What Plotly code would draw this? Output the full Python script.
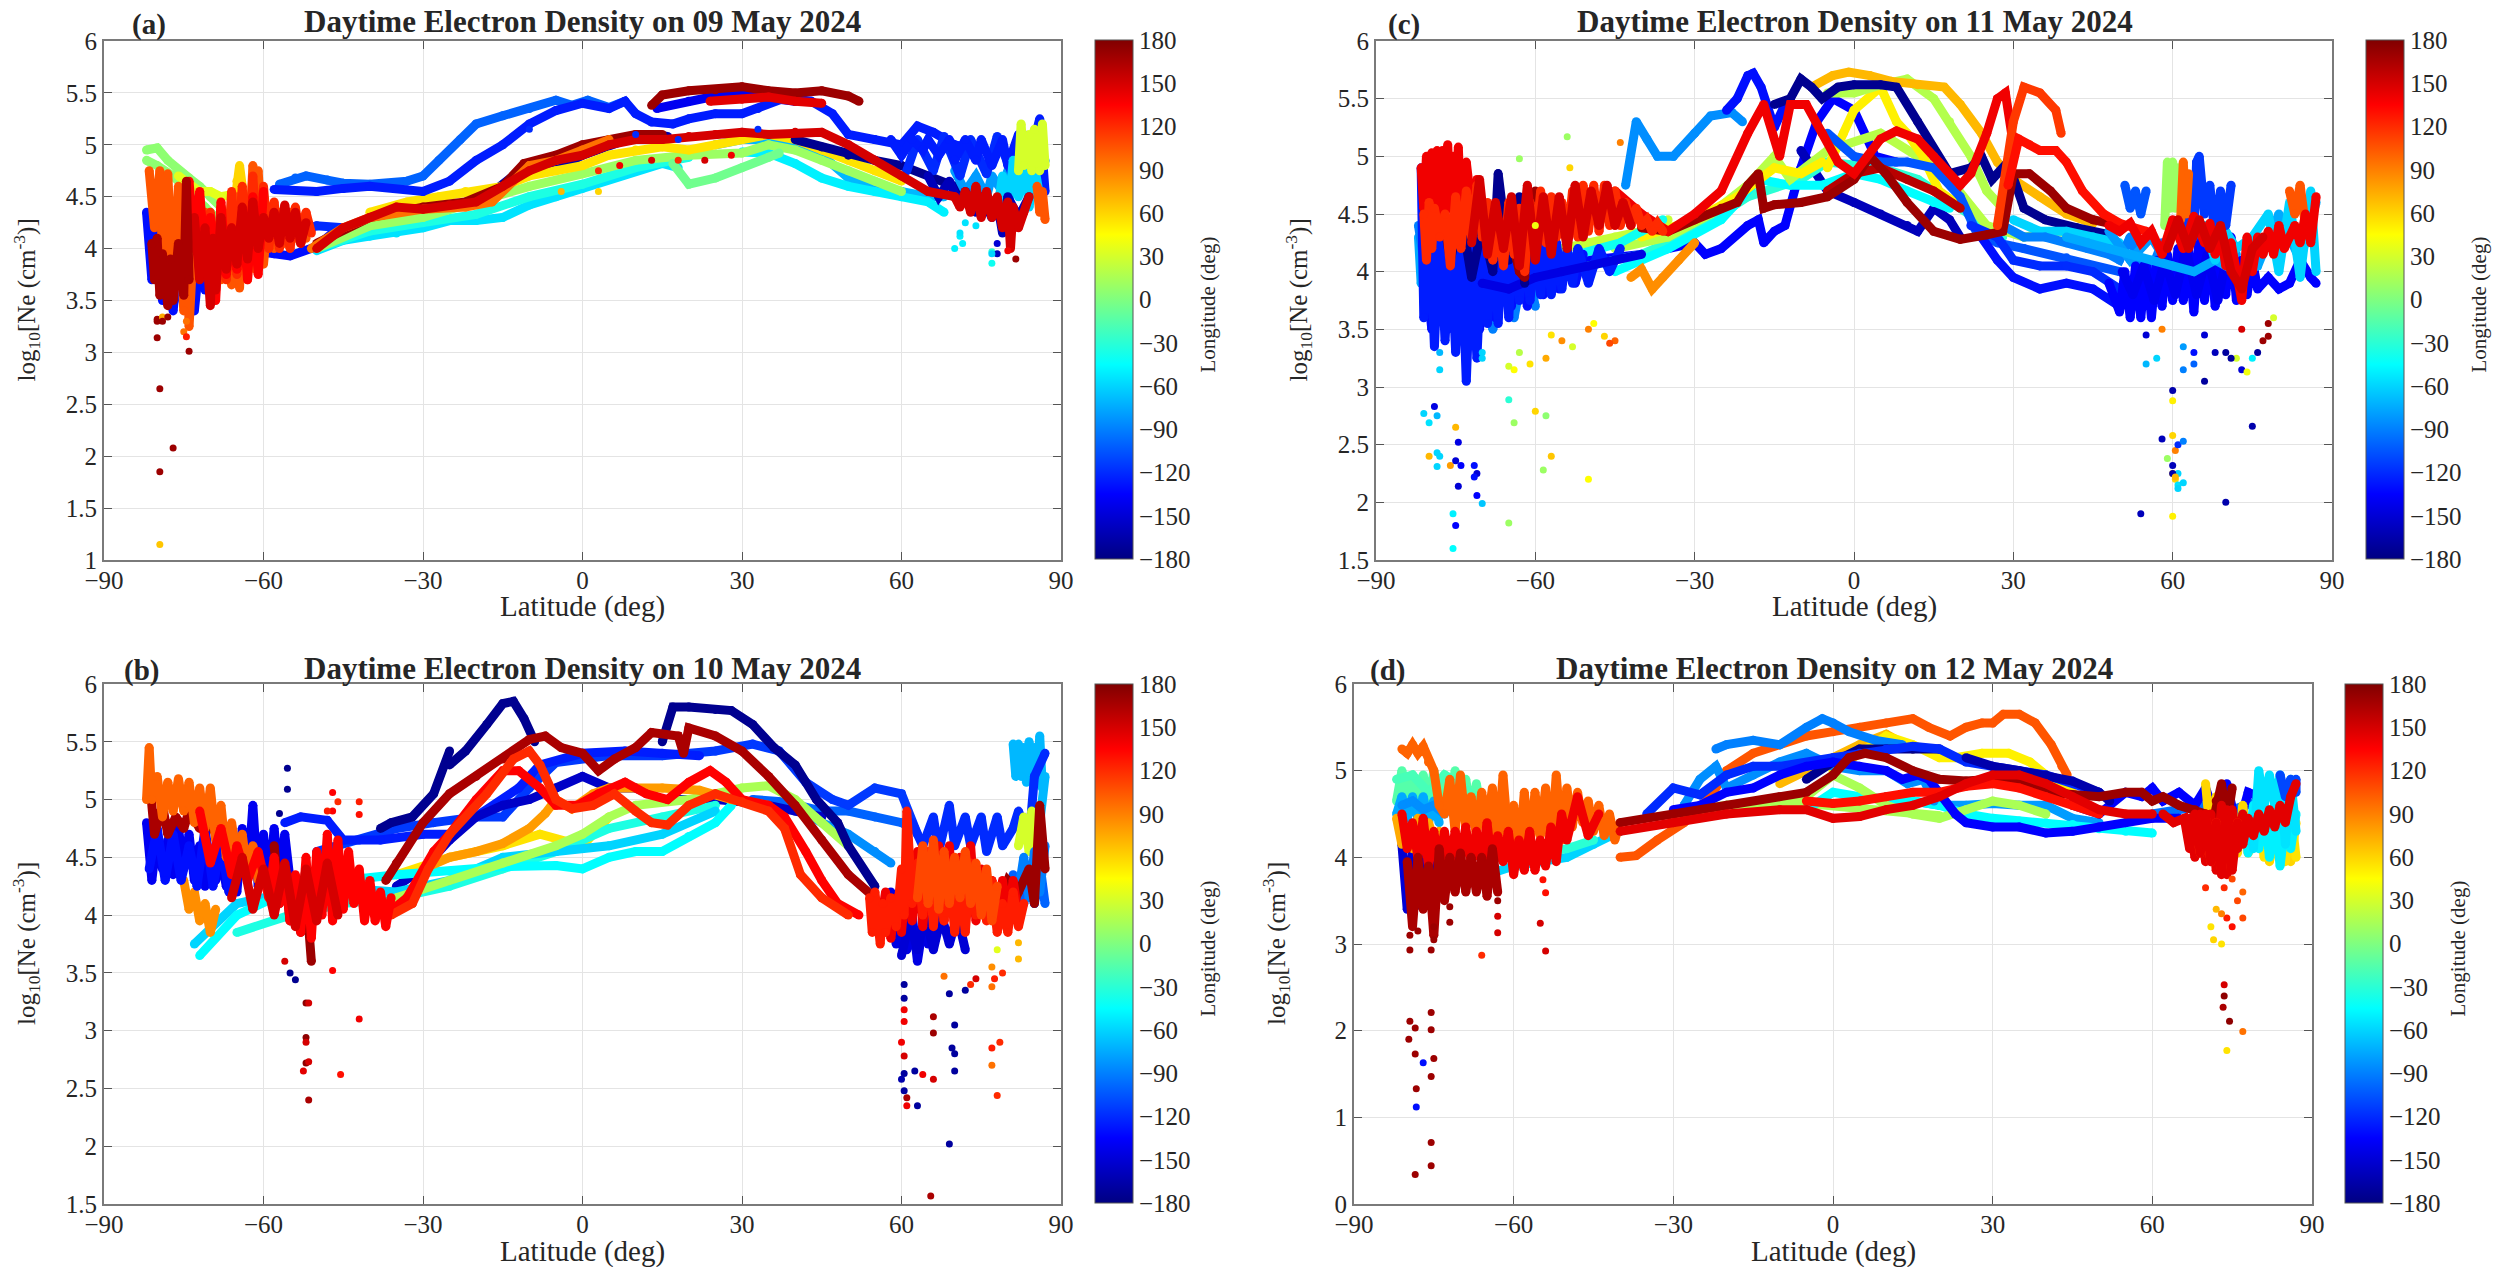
import plotly.graph_objects as go
from plotly.colors import sample_colorscale

W, H = 2504, 1267
TICK_LON = [-180,-150,-120,-90,-60,-30,0,30,60,90,120,150,180]
TICK_LAT = [-90,-60,-30,0,30,60,90]
JET = [[0,"rgb(0,0,130)"],[0.125,"rgb(0,0,255)"],[0.375,"rgb(0,255,255)"],[0.625,"rgb(255,255,0)"],[0.875,"rgb(255,0,0)"],[1,"rgb(128,0,0)"]]

# ---------- panel (a) 09 May ----------
a01=(-100,[-57,-54,-52,-48,-45,-40,-33,-30,-27,-23,-20,-15,-10,-5,-2,1,5,8],[4.62,4.68,4.7,4.66,4.63,4.62,4.65,4.7,4.85,5.05,5.2,5.28,5.35,5.43,5.38,5.43,5.36,5.42])
a02=(-125,[-58,-50,-45,-40,-30,-25,-20,-15,-10,-5,0,5,8,10,13,17,20,25,30,33,38,43,47,50,55,60,63,66,70,75],[4.57,4.55,4.58,4.6,4.55,4.65,4.85,5.0,5.2,5.33,5.4,5.35,5.42,5.3,5.22,5.2,5.25,5.3,5.3,5.35,5.45,5.42,5.3,5.1,5.05,5.0,5.18,5.12,5.0,4.95])
a03=(-140,[14,20,25,30,35,40],[5.35,5.42,5.47,5.48,5.45,5.42])
a04=(-165,[-18,-14,-10,-7,-3,0,5,10,13,16],[4.5,4.65,4.82,4.8,4.82,4.9,5.0,5.08,5.1,5.08])
a05=(-70,[25,30,35,40,45,50,55,60,65,68],[5.0,5.05,5.05,5.02,4.9,4.68,4.6,4.55,4.5,4.5])
a06=(-55,[-50,-45,-40,-35,-30,-25,-20,-15,-10,-5,0,5,10,15,18],[3.98,4.08,4.12,4.15,4.2,4.27,4.27,4.3,4.42,4.5,4.58,4.68,4.75,4.82,4.78])
a07=(-50,[30,35,40,45,50,55,60,65,68],[4.93,4.92,4.82,4.68,4.6,4.55,4.5,4.45,4.35])
a08=(-35,[-50,-40,-30,-20,-10,0,10,20],[4.0,4.17,4.25,4.33,4.5,4.62,4.78,4.88])
a09=(10,[-50,-40,-30,-20,-10,0,10,20,30,35,40,45,50,55,60],[4.0,4.22,4.3,4.45,4.6,4.72,4.85,4.9,4.92,5.0,4.95,4.85,4.75,4.65,4.55])
a10=(-5,[17,20,25,30,35,37],[4.82,4.62,4.68,4.78,4.88,4.92])
a11=(55,[-40,-33,-27,-22,-15,-10,-5,0,5,10,15,20,25,30,35,40,45,50,55,60],[4.35,4.45,4.5,4.55,4.6,4.7,4.75,4.8,4.9,4.95,4.98,4.95,5.0,5.05,5.1,5.05,4.95,4.85,4.75,4.65])
a12=(-175,[40,45,50,55,60,65,70,75,80],[5.05,4.98,4.9,4.85,4.8,4.7,4.6,4.5,4.4])
a13=(-130,[-62,-58,-55,-50,-47],[3.98,3.95,3.93,4.02,4.15])
a14=(-120,[-60,-57,-54,-50,-45],[4.2,4.1,4.15,4.22,4.2])
a15=(170,[-50,-40,-30,-22,-15,-11,-5,0,5,10,15],[4.05,4.3,4.4,4.45,4.6,4.82,4.9,5.0,5.05,5.1,5.1])
a16=(95,[-51,-45,-40,-30,-22,-17,-13,-10,-5,0,5],[4.0,4.2,4.3,4.38,4.4,4.45,4.65,4.8,4.85,4.95,5.05])
a17=(150,[-50,-45,-40,-35,-30,-25,-20,-15,-10,-5,0,5,10,15,20,25,30,35,40,45,50,55,60,65,70],[4.0,4.2,4.3,4.4,4.38,4.42,4.45,4.6,4.75,4.85,4.9,5.0,5.05,5.05,5.08,5.1,5.12,5.1,5.12,5.12,5.0,4.85,4.7,4.55,4.5])
a18=(170,[13,15,20,25,30,35,40,45,50,52],[5.38,5.48,5.52,5.53,5.56,5.52,5.5,5.52,5.47,5.42])
a19=(145,[24,30,35,40,45],[5.42,5.44,5.46,5.42,5.4])
a20=(5,[-82,-80,-78,-76,-74,-72,-70,-68,-68,-71,-74,-77,-80,-82],[4.95,4.97,4.85,4.75,4.68,4.6,4.5,4.4,4.25,4.4,4.55,4.7,4.8,4.85])
a21=(35,[-76,-74,-72,-70,-68,-66,-65,-67,-69,-72],[4.7,4.62,4.55,4.55,4.5,4.52,4.45,4.25,4.15,4.35])
a22=(60,[-65.5,-65,-64.5,-64,-64.5,-65],[4.4,4.65,4.8,4.6,4.35,4.2])
a23=(-130,[-82,-81,-80,-79,-78,-77,-76,-75,-74,-73,-72,-71,-70,-69,-68,-67,-66,-65,-64,-63,-62],[4.35,3.7,4.2,3.5,4.05,3.4,3.9,3.45,4.1,3.4,3.9,3.6,4.2,3.7,4.25,3.9,4.3,3.95,4.4,4.0,4.45])
a24=(105,[-81.5,-80.5,-79.5,-79,-78,-77,-76,-75,-74.5,-74,-73,-72,-71,-70,-69,-68,-67,-66,-65,-64.5,-64,-63,-62,-61.5,-61,-60,-59,-58,-57,-56,-55,-54,-53,-52],[4.75,4.2,4.75,3.9,4.72,3.6,4.6,3.4,4.3,3.25,4.2,3.8,4.35,3.6,4.2,3.7,4.3,3.65,4.5,3.62,4.4,3.7,4.8,3.8,4.75,3.85,4.4,4.0,4.35,4.05,4.35,4.1,4.3,4.1])
a25=(150,[-73,-72,-71,-70,-69.5,-69,-68,-67,-66,-65,-64,-63,-62,-61,-60,-59,-58,-57,-56,-55,-54,-53,-52],[4.3,3.7,4.2,3.45,4.1,3.6,4.3,3.8,4.2,3.85,4.4,3.9,4.45,4.0,4.3,4.1,4.35,4.05,4.42,4.1,4.35,4.05,4.25])
a26=(165,[-81,-80.5,-80,-79.5,-79,-78,-77.5,-77,-76,-75,-74.5,-74],[4.05,3.7,4.1,3.55,3.95,3.45,3.9,3.5,4.05,3.55,4.65,3.7])
a27=(-125,[58,60,62,64,65,67,69,70,72,74,75,77,79,80,82,84,86,87],[5.05,4.9,5.05,4.95,5.05,4.9,5.05,4.85,5.05,4.85,5.05,4.8,5.05,4.8,5.1,4.85,5.25,4.55])
a28=(-80,[70,72,74,76,77,79,80,81,83,84,85,86,87],[4.75,4.55,4.7,4.5,4.7,4.55,4.75,4.55,4.85,4.55,4.9,4.6,4.85])
a29=(30,[82,82.5,83,84,84.5,85,86,86.5,87],[4.75,5.2,4.8,5.1,4.75,5.15,4.75,5.2,4.8])
a30=(-160,[65,67,69,71,72,74,75,77,78,79,80,82,84],[4.7,4.5,4.65,4.42,4.55,4.35,4.5,4.3,4.45,4.15,4.5,4.3,4.5])
a31=(150,[70,71,72,73,74,75,76,77,78,79,80,80.5,81,82,83,84],[4.5,4.4,4.55,4.35,4.6,4.3,4.55,4.3,4.5,4.2,4.45,4.0,4.4,4.2,4.35,4.5])
a32=(105,[85.5,86,86.5,87],[4.6,4.35,4.55,4.28])
a33=(120,[-72,-71,-70,-69,-68,-67,-66,-65,-64,-63,-62,-61,-60,-59,-58,-57,-56,-55,-54,-53,-52,-51],[4.5,3.9,4.35,3.6,4.4,3.7,4.55,3.75,4.6,3.8,4.7,3.85,4.6,4.0,4.45,4.0,4.3,4.0,4.4,4.05,4.35,4.15])
a34=(135,[-74,-73,-72,-71,-70,-69,-68,-67,-66,-65,-64,-63,-62,-61,-60],[4.65,4.0,4.55,3.85,4.3,3.5,4.45,3.75,4.2,3.8,4.35,3.7,4.5,3.75,4.55])
a36=(-120,[61,63,66,68,71,73,76,78,81,83,85],[4.75,5.05,4.75,5.08,4.7,5.05,4.72,5.08,4.7,5.1,4.6])
a38=(-60,[78,79,80,81,82,83,84,85,86],[4.35,4.7,4.3,4.85,4.5,4.9,4.4,4.8,4.5])
a_tracks=[a01,a03,a04,a05,a06,a07,a08,a09,a10,a11,a12,a13,a14,a20,a21,a22,a23,a28,a02,a36,a27,a38,a29,a30,a18,a15,a16,a17,a19,a24,a33,a34,a25,a26,a31,a32]
a_dot_lat=[-80,-80,-80,-79,-79,-78,-75,-74.5,-74.5,-74,-79.5,-77,-79.5,-79.5,71,71,70,77,77,78,81.5,80,71.5,72,74,77,78,3,7,13,18,23,28,10,18,33,-10,3,-4]
a_dot_ne=[3.3,3.14,3.32,3.34,3.3,3.34,3.2,3.15,3.3,3.01,2.65,2.08,1.85,1.15,4.12,4.15,4.0,3.97,3.86,3.95,3.9,3.98,4.05,4.25,4.22,3.95,4.05,4.75,4.8,4.85,4.85,4.85,4.9,5.1,5.05,5.15,5.15,4.55,4.55]
a_dot_lon=[170,170,170,75,170,170,95,125,95,170,170,170,170,65,-50,-55,-50,-30,-40,-160,170,140,-50,-55,-55,-60,-150,120,140,150,120,150,140,-120,-120,-120,-120,60,70]

# ---------- panel (b) 10 May ----------
b01=(-175,[-38,-36,-32,-28,-25],[4.75,4.8,4.85,5.05,5.42])
b02=(-175,[-25,-22,-18,-15,-13,-11,-9],[5.3,5.42,5.65,5.83,5.85,5.7,5.5])
b03=(-175,[15,17,20,25,28,32,36,40,44,48,50,55],[5.5,5.8,5.8,5.78,5.77,5.65,5.45,5.3,5.0,4.8,4.6,4.25])
b04=(-115,[-50,-42,-35,-28,-20,-15,-10,-5,5,15,25,32,37,42,47,50,55,60,63],[4.55,4.65,4.75,4.8,4.85,4.85,5.1,5.32,5.38,5.38,5.42,5.48,5.42,5.15,5.0,4.95,5.1,5.05,4.7])
b05=(-125,[-56,-53,-48,-45,-38,-30,-25,-20,-12,-8,0,8,15,22],[4.8,4.85,4.82,4.65,4.65,4.7,4.7,4.85,5.1,5.3,5.4,5.42,5.4,5.38])
b06=(-155,[-35,-30,-25,-20,-15,-10,-5,0,5,10,15,25,30,35,40,45],[4.25,4.4,4.65,4.85,4.95,5.0,5.1,5.2,5.1,5.1,5.0,5.0,4.98,4.95,4.9,4.85])
b07=(-100,[32,38,45,50,55,60,62],[5.0,4.98,4.9,4.9,4.85,4.8,4.75])
b08=(-85,[40,45,50,55,58],[4.95,4.8,4.7,4.55,4.45])
b09=(55,[-35,-25,-15,-8,0,5],[4.35,4.5,4.6,4.7,4.6,4.85])
b10=(15,[-35,-25,-15,-5,0,5,10,20,30,35,40,45,50],[4.15,4.3,4.45,4.6,4.7,4.85,4.95,5.0,5.1,5.12,5.0,4.8,4.6])
b11=(-45,[-72,-65,-58,-45,-35,-25,-15,-5,0,5,10,15,20,25,28],[3.65,4.0,4.15,4.3,4.35,4.38,4.42,4.43,4.4,4.5,4.55,4.55,4.68,4.8,4.95])
b12=(-60,[-73,-65,-50,-35,-25,-15,-5,5,15,25],[3.75,4.1,4.25,4.2,4.3,4.5,4.55,4.6,4.7,4.9])
b13=(-35,[-65,-55,-45,-35,-25,-15,-5,5,15,25],[3.85,4.0,4.1,4.15,4.25,4.4,4.55,4.75,4.85,4.95])
b14=(80,[-30,-25,-20,-15,-10,-7,-5,-2,2,5,15,22,28,35],[4.4,4.5,4.55,4.62,4.75,4.88,5.0,4.92,5.05,5.1,5.1,5.08,5.0,4.95])
b15=(165,[-37,-35,-30,-25,-20,-15,-10,-7,-4,0,3,6,10,13,18,19,20,25,30,35,40,45,50,55],[4.3,4.45,4.8,5.05,5.2,5.35,5.52,5.55,5.45,5.4,5.25,5.35,5.45,5.58,5.55,5.4,5.62,5.55,5.42,5.2,4.95,4.65,4.35,4.15])
b16=(135,[-37,-33,-28,-25,-20,-15,-12,-8,-5,-1,3,8,12,16,20,24,27,30,35,38,42,45,48,52],[4.0,4.15,4.55,4.7,5.0,5.25,5.25,5.1,4.95,4.95,5.05,5.15,5.05,5.0,5.15,5.25,5.15,5.0,4.95,4.85,4.55,4.3,4.1,4.0])
b17=(120,[-36,-32,-29,-25,-18,-13,-10,-8,-5,-2,2,6,10,13,16,20,25,30,35,38,41,45,50],[4.0,4.1,4.4,4.7,5.05,5.35,5.42,5.3,5.0,4.92,4.95,5.05,4.9,4.8,4.78,4.95,5.05,4.98,4.9,4.75,4.35,4.15,4.0])
b18=(-140,[-82,-81,-80,-79,-78,-77,-76,-75,-74,-73,-72,-71,-70,-69,-68,-67,-66,-65,-64,-63,-62,-61,-60,-59,-58,-57,-56,-55],[4.8,4.3,4.7,4.4,4.65,4.35,4.75,4.4,4.7,4.3,4.6,4.25,4.55,4.3,4.5,4.25,4.45,4.2,4.75,4.3,4.95,4.25,4.7,4.2,4.75,4.3,4.7,4.3])
b19=(165,[-81.5,-80.5,-79,-78,-76.5,-75,-74,-72,-71,-69,-68],[5.2,4.7,4.95,4.7,4.85,4.75,4.9,4.75,4.9,4.7,4.85])
b20=(100,[-82,-81.5,-81,-80,-79,-78,-77,-76,-75,-74,-73,-72,-71,-70,-69,-68,-67,-66,-65,-64,-63,-62,-61],[5.0,5.45,5.0,5.2,4.85,5.15,4.9,5.18,4.9,5.15,4.8,5.1,4.75,5.1,4.65,4.95,4.5,4.8,4.5,4.7,4.35,4.6,4.3])
b21=(135,[-72,-70,-68,-66,-65,-63,-61,-59,-58,-57,-56,-55,-54,-53,-52,-51,-50,-49,-48,-47,-46,-45,-44,-43,-42,-41,-40,-39,-38,-37,-36],[4.9,4.45,4.75,4.35,4.6,4.3,4.55,4.15,4.5,4.1,4.4,3.95,4.35,3.85,4.5,3.8,4.55,4.0,4.7,3.95,4.65,4.05,4.55,4.1,4.4,3.95,4.3,3.95,4.2,3.9,4.15])
b22=(170,[-58,-57,-56,-55,-54,-53,-52,-51],[4.6,4.1,4.35,3.95,4.3,3.85,4.2,3.6])
b23=(-70,[81,81.5,82,82.5,83,83.5,84,84.5,85,85.5,86,86.5,87,86,85,84,83,82],[5.48,5.2,5.48,5.2,5.45,5.15,5.5,5.2,5.45,5.15,5.55,5.1,5.2,4.8,4.4,4.2,4.15,4.3])
b24=(-120,[62,64,66,67,69,70,72,73,75,76,78,79,81,82,84,85,87],[4.8,4.6,4.85,4.55,4.95,4.6,4.85,4.6,4.85,4.55,4.85,4.6,4.75,4.9,4.65,5.2,5.4])
b25=(30,[82,83,84,84.5,85,85.5],[4.6,4.85,4.55,4.9,4.6,4.85])
b26=(125,[54,54.5,55,56,56.5,57,58,59,60,60.5,61,62,63,64,65,66,67,68,69,70,71,72,73,74,75,76,77,78,79,80,81,82,83],[4.15,3.85,4.2,3.75,4.1,3.85,4.15,3.9,4.4,4.0,4.9,4.1,4.45,4.0,4.55,3.9,4.4,3.95,4.45,3.85,4.3,3.85,4.45,4.0,4.35,3.95,4.3,3.85,4.1,3.85,4.2,3.9,4.1])
b27=(170,[62,64,66,68,70,72,74,76,78,80,82,84,85,86,87],[4.1,4.45,4.0,4.4,4.1,4.5,4.0,4.3,4.05,4.3,4.2,4.4,4.1,4.95,4.4])
b28=(-100,[81,83,84,85,86,87,86,85],[4.35,4.1,4.35,4.1,4.4,4.1,4.45,4.1])
b29=(-145,[58,59,60,61,62,63,64,65,66],[4.2,3.75,4.1,3.7,4.0,3.6,3.9,3.75,4.1])
b30=(140,[56,57,58,59,60,61,62,63,64,65,66,67,68,69,70,71,72,73,74,75,76,77,78,79,80,81,82],[3.9,4.2,3.8,4.15,3.85,4.35,3.95,4.55,3.9,4.45,4.0,4.6,3.95,4.6,3.9,4.5,4.0,4.6,3.95,4.4,4.0,4.3,3.9,4.3,3.95,4.3,4.0])
b31=(110,[63,64,65,66,67,68,69,70,71,72,73,74,75,76,77,78],[4.15,4.6,4.1,4.65,4.05,4.55,4.1,4.5,4.15,4.55,4.1,4.45,4.0,4.4,3.95,4.25])
b32=(150,[-66,-64,-62,-60,-58,-56,-54,-52,-50,-48,-46],[4.15,4.5,4.05,4.4,4.0,4.45,3.9,4.4,3.95,4.45,4.0])
b33=(-150,[60,61.5,63,64.5,66,67.5,69,70.5,72],[3.65,3.95,3.7,4.0,3.7,4.0,3.75,4.0,3.7])
b34=(-90,[82,83,84,85,86,87],[4.2,4.5,4.15,4.55,4.2,4.6])
b35=(-130,[-81.5,-80,-78.5,-77,-75.5,-74,-72.5,-71,-69.5,-68,-66.5,-65],[4.4,4.75,4.3,4.7,4.3,4.6,4.25,4.75,4.25,4.6,4.2,4.55])
b36=(85,[-75,-74,-73,-72,-71,-70,-69],[4.3,4.05,4.2,3.95,4.1,3.85,4.05])
b_tracks=[b07,b08,b04,b05,b06,b09,b13,b12,b11,b10,b14,b01,b02,b03,b36,b18,b35,b23,b24,b25,b28,b34,b29,b33,b19,b15,b16,b17,b22,b20,b21,b32,b27,b30,b26,b31]
b_dot_lat=[-55.5,-55.5,-57,-56,-55,-54,-52,-51.5,-52,-52,-52,-51.5,-52.5,-51.5,-47,-45.5,-42,-47,-47,-46,-42,-42,-48,60,60.5,60.5,60.5,60.5,60.5,60.5,60,60.5,61,61,63,62.5,64,66,66,66,69,70,69.5,70,70,69,72,74,77,77.5,77,77,78.5,78,65.5,68,73,77,78,82,82,79]
b_dot_ne=[5.27,5.09,4.88,3.6,3.5,3.44,3.24,3.24,2.94,2.9,2.72,2.73,2.65,2.4,3.52,2.62,3.1,5.06,4.9,4.98,4.98,4.87,4.9,2.9,3.18,3.28,2.78,3.08,3.4,2.63,2.58,2.48,2.42,2.35,2.35,2.65,2.62,3.12,2.98,2.58,3.32,3.05,2.85,2.8,2.65,2.02,3.35,3.45,3.38,3.45,2.85,2.7,2.9,2.44,1.57,3.47,3.4,3.55,3.7,3.62,3.76,3.5]
b_dot_lon=[-175,-175,-175,150,-175,-175,175,150,175,150,175,150,145,165,135,130,140,135,135,120,125,130,125,140,140,-170,150,140,-170,-170,-165,-170,165,140,-170,-170,140,165,170,150,-170,-170,-170,-170,-170,-170,-170,150,95,125,125,95,120,120,165,95,120,85,35,70,70,120]

# ---------- panel (c) 11 May ----------
c01=(-85,[-43,-41,-39,-37,-34,-30,-27,-23,-21],[4.75,5.3,5.15,5.0,5.0,5.2,5.35,5.38,5.3])
c02=(-130,[-24,-22,-20,-19,-17.5,-15,-13],[5.4,5.5,5.7,5.72,5.6,5.25,5.45])
c03=(70,[-8,-4,-1,3,7,12,17,20,24,27,30,35,40,45],[5.6,5.7,5.73,5.7,5.65,5.62,5.6,5.45,5.2,4.95,4.8,4.65,4.5,4.42])
c04=(18,[-5,0,5,10,15,18,22,25,28],[5.55,5.55,5.62,5.67,5.5,5.3,5.0,4.7,4.55])
c05=(50,[-5,-2,0,5,8,10,13,16,19],[4.9,5.2,5.4,5.6,5.3,5.2,5.0,4.7,4.6])
c06=(-175,[-15,-12,-10,-8,-6,-3,0,5,8,12,15,18,22,24,26,29,32,36,42,48],[5.45,5.5,5.67,5.6,5.5,5.6,5.62,5.62,5.6,5.3,5.05,4.85,4.9,5.0,4.8,4.95,4.55,4.45,4.38,4.32])
c07=(-135,[-50,-40,-35,-30,-28,-25,-20,-18,-17,-15,-13,-10,-7,-4,0,4,8],[4.1,4.15,4.2,4.25,4.15,4.2,4.4,4.45,4.25,4.35,4.4,4.9,5.3,5.5,5.4,5.0,4.95])
c08=(-160,[-10,-5,0,5,10,12,15,18,20],[5.05,4.7,4.6,4.5,4.4,4.35,4.55,4.45,4.3])
c09=(-130,[24,27,30,35,40,45,50,53],[4.3,4.1,3.95,3.85,3.9,3.85,3.7,3.75])
c10=(-120,[22,27,30,35,40,45,50],[4.4,4.3,4.1,4.05,4.05,4.0,3.85])
c11=(-105,[-5,0,5,10,15,20,23,27,32,40,50],[5.2,5.0,4.95,4.95,4.9,4.65,4.35,4.25,4.2,4.12,4.0])
c12=(-45,[-45,-35,-25,-18,-12,-6,0,5,10,15,18],[4.0,4.2,4.45,4.8,4.75,4.75,4.85,4.8,4.7,4.6,4.55])
c13=(-30,[-50,-40,-30,-20,-10,-5,5,12,20,28],[4.05,4.15,4.35,4.65,4.8,4.95,4.9,4.8,4.55,4.3])
c14=(20,[-45,-35,-27,-20,-15,-12,-5,5,12,18,25,32,38,45],[4.2,4.3,4.5,4.75,5.0,4.8,5.05,5.2,5.0,4.8,4.4,4.3,4.35,4.3])
c15=(50,[-40,-30,-22,-15,-10,-6],[4.3,4.45,4.65,4.9,4.85,4.95])
c16=(85,[-42,-40,-38,-36,-33,-30],[3.95,4.02,3.85,3.95,4.1,4.25])
c17=(-105,[51,52,53,54,55],[4.75,4.55,4.7,4.5,4.7])
c18=(170,[-40,-35,-30,-25,-22,-20,-18,-17,-15,-10,-5,0,3,6,10,15,20,25,28,30,33,37,40,45,50],[4.38,4.35,4.45,4.55,4.6,4.75,4.85,4.55,4.58,4.6,4.65,4.8,5.0,4.85,4.6,4.35,4.28,4.32,4.35,4.85,4.85,4.7,4.55,4.45,4.4])
c19=(160,[-5,0,5,10,15,20],[4.7,4.85,4.9,4.8,4.7,4.55])
c20=(140,[-45,-40,-35,-30,-25,-20,-17,-14,-12,-9,-6,-3,0,5,8,12,15,20,22,25,27,28.5,30],[4.7,4.5,4.35,4.5,4.7,5.2,5.45,5.0,5.45,5.45,5.2,4.95,4.85,5.15,5.22,5.15,5.0,4.75,4.85,5.2,5.5,5.55,5.1])
c21=(115,[27,30,32,35,38,39],[4.4,5.3,5.6,5.55,5.4,5.2])
c22=(130,[29,31,33,35,38,40,43,47,50,55],[4.75,5.15,5.1,5.05,5.05,4.95,4.7,4.5,4.42,4.35])
c23=(-125,[-81.5,-81,-80,-79,-78,-77,-76,-75,-74,-73,-72,-71,-70,-69,-68,-67,-66,-65,-64,-63,-62,-61,-60,-59,-58,-57,-56,-55,-54,-53,-52,-50,-48,-46,-44],[4.9,3.6,4.5,3.35,4.4,3.4,4.3,3.3,4.35,3.05,4.25,3.25,4.3,3.55,4.3,3.55,4.4,3.6,4.45,3.75,4.3,3.75,4.25,3.8,4.3,3.8,4.25,3.85,4.2,3.9,4.2,3.9,4.2,4.0,4.2])
c24=(-90,[-82,-80,-78,-76,-74,-72,-70,-68,-66,-64,-62,-60],[4.4,3.8,4.15,3.6,4.1,3.5,4.05,3.5,4.0,3.6,4.1,3.7])
c25=(-175,[-81,-79,-78,-76,-74,-72,-70,-68,-67,-65,-63,-62],[4.9,4.35,4.65,4.1,4.5,3.95,4.4,4.0,4.85,4.1,4.65,3.9])
c26=(140,[-81.5,-81,-80.5,-80,-79.5,-79,-78.5,-78,-77.5,-77,-76.5,-76,-75.5,-75,-74.5,-74,-73,-72,-71,-70],[4.9,4.55,5.0,4.5,5.03,4.45,5.05,4.5,5.05,4.45,5.1,4.55,5.0,4.5,5.08,4.5,4.95,4.55,4.8,4.5])
c27=(120,[-81,-80.5,-80,-79.5,-79,-78,-77,-76,-75,-74,-73,-72,-71,-70,-69,-68,-67,-66,-65,-64,-63,-62,-61,-60,-59,-58,-57,-56,-55,-54,-53,-52,-51,-50,-49,-48,-47,-46,-45,-44,-43,-42,-41,-40,-39,-38,-37,-36],[4.5,4.1,4.6,4.2,4.55,4.3,4.5,4.05,4.65,4.2,4.7,4.3,4.75,4.3,4.6,4.1,4.45,4.05,4.6,4.15,4.55,4.0,4.6,4.2,4.7,4.25,4.65,4.3,4.6,4.25,4.7,4.3,4.75,4.35,4.75,4.35,4.75,4.4,4.7,4.4,4.6,4.4,4.55,4.4,4.45,4.35,4.42,4.35])
c28=(170,[-68,-66,-65,-63,-62,-61,-60,-58,-56],[4.4,4.1,4.4,4.0,3.95,4.6,4.7,4.3,4.6])
c29=(-90,[28,32,36,40,44,48,50,52,55,58,60,62,64,66,68,70],[4.4,4.3,4.3,4.25,4.2,4.15,4.1,4.3,3.9,4.25,3.85,4.2,3.9,4.3,3.85,4.25])
c30=(-135,[48,50,51,52,53,54,55,56,57,58,59,60,61,62,63,64,65,66,67,68,69,70,71,72,73,74,75,76,78,80,82,84,86,87],[3.9,3.65,4.0,3.6,4.05,3.6,4.1,3.6,4.1,3.7,4.15,3.75,4.2,3.75,4.2,3.65,4.3,3.75,4.25,3.7,4.2,3.8,4.3,3.75,4.1,3.8,4.1,3.85,3.95,3.85,3.9,4.1,3.95,3.9])
c31=(-60,[66,68,70,72,75,78,80,82,84,86,87],[4.4,4.1,4.35,4.2,4.3,4.5,4.0,4.6,3.95,4.7,4.0])
c32=(-115,[62,63,64,64.5,65,66,67,68,69,70,71],[4.4,4.8,4.3,4.95,5.0,4.5,4.75,4.3,4.7,4.4,4.75])
c33=(10,[58.5,59,59.5,60,60.5,61],[4.4,4.95,4.55,4.95,4.55,4.9])
c34=(100,[61.5,62,62.5,63],[4.45,4.95,4.5,4.85])
c35=(140,[48,50,52,54,56,58,60,62,64,66,67,68,69,70,71,72,73,74,75,76,77,78,79,80,81,82,83,84,85,86,87],[4.4,4.35,4.42,4.25,4.35,4.15,4.45,4.2,4.48,4.25,4.42,4.15,4.35,4.05,4.25,3.95,3.75,4.3,4.0,4.3,4.15,4.35,4.15,4.4,4.2,4.3,4.4,4.25,4.5,4.25,4.65])
c36=(105,[82,83,84,85],[4.7,4.5,4.75,4.4])
c37=(-40,[-72,-68,-64,-60,-56,-52,-48,-44,-40,-36],[3.85,3.95,3.9,4.0,4.05,4.15,4.2,4.25,4.35,4.45])
c38=(25,[-55,-50,-45,-40,-35],[4.2,4.25,4.3,4.35,4.45])
c39=(-145,[-70,-65,-60,-55,-50,-45,-40],[3.9,3.85,3.95,4.0,4.05,4.1,4.15])
c40=(-75,[40,44,48,52,56,60,64,68,72,76,80,84,87],[4.3,4.25,4.2,4.15,4.1,4.05,4.0,4.1,4.0,4.05,4.5,4.1,4.6])
c41=(-60,[30,35,40,45,50],[4.45,4.35,4.35,4.3,4.25])
c42=(-130,[-81,-79.5,-78,-76.5,-75,-73.5,-72,-70.5,-69,-67.5,-66,-64.5,-63,-61.5,-60,-58.5,-57,-55.5,-54,-52.5,-51],[4.2,3.5,4.3,3.5,4.2,3.4,4.15,3.5,4.2,3.6,4.2,3.7,4.2,3.7,4.15,3.8,4.2,3.85,4.15,3.9,4.15])
c43=(150,[-72,-70.5,-69,-67.5,-66,-64.5,-63,-61.5,-60,-58.5,-57,-55.5,-54,-52.5,-51,-49.5,-48,-46.5,-45,-43.5,-42],[4.25,4.8,4.15,4.6,4.2,4.65,4.05,4.75,4.1,4.65,4.15,4.65,4.2,4.75,4.3,4.7,4.4,4.75,4.4,4.6,4.4])
c44=(-140,[50.5,52.5,54.5,56.5,58.5,60.5,62.5,64.5,66.5,68.5,70.5,72.5],[4.0,3.8,4.05,3.75,4.1,3.8,4.2,3.8,4.15,3.75,4.2,3.8])
c45=(-80,[48,52,56,60,64,68,72],[4.35,4.1,4.3,4.0,4.3,4.0,4.15])
c46=(150,[59,61,63,65,67,69,71,73,75,77],[4.2,4.45,4.2,4.45,4.2,4.4,4.0,3.85,4.2,4.3])
c47=(-75,[-82,-81.5,-81,-80.5,-80],[4.3,3.9,4.5,3.9,4.4])
c_tracks=[c01,c02,c07,c08,c13,c12,c14,c15,c16,c17,c38,c37,c05,c04,c03,c06,c11,c09,c10,c41,c29,c47,c24,c42,c23,c39,c25,c45,c30,c44,c40,c31,c32,c33,c34,c36,c19,c18,c20,c21,c22,c28,c26,c27,c43,c35,c46]
c_dot_lat=[-81,-80,-79,-78.5,-78,-80,-78.5,-78.5,-76,-75,-74.5,-75,-74.5,-74,-71,-71.5,-71.5,-71,-70,-75.5,-75,-75.5,-65,-64,-60,-58,-58.5,-57,-54,-60,-50,-65,-64,-63,-61,-58,-57,-55,-53,-50,-45,-44,-46,-47,-49,-53.5,-63,-67,-78,-78,-70,-65,-70,60,60,60,60.5,61,62,60,60.5,61,58,59,60,60,61,61,62,60.5,60,54,70,75,73,75,78,79,77,78,73,74,76,72,58,62,64,66,62,57,55,55,64,66,70,68,71]
c_dot_ne=[2.77,2.69,2.83,2.75,2.4,2.4,2.43,2.31,2.32,2.65,2.52,2.36,2.14,2.32,2.25,2.32,2.22,2.06,1.99,1.9,1.8,1.6,1.82,2.69,2.79,2.75,2.28,2.4,5.17,4.4,2.2,2.89,3.15,3.3,3.2,3.25,3.45,3.4,3.35,3.5,3.4,5.12,3.38,3.44,3.55,4.9,4.98,4.86,3.3,3.15,3.25,3.18,3.3,2.97,2.88,2.58,2.45,2.5,2.53,2.25,2.2,2.25,2.55,2.38,2.32,2.25,2.15,2.12,2.17,2.22,1.88,1.9,2.0,2.66,3.15,3.25,3.55,3.6,3.4,3.44,3.5,3.13,3.3,3.25,3.5,3.35,3.3,3.45,3.15,3.25,3.2,3.45,3.2,3.05,3.3,3.3,3.25]
c_dot_lon=[-60,-55,-145,-70,-60,70,-60,-60,80,70,-145,-150,-150,-135,-150,-130,-130,-135,-65,-50,-135,-45,10,10,60,5,10,65,10,40,45,-30,45,20,55,75,55,85,30,90,100,90,110,60,45,60,10,-175,-70,-60,-60,30,-60,-165,50,60,90,-120,-90,75,60,-60,-160,10,-160,-165,-55,-60,-60,70,50,-160,-165,-165,-150,-50,170,30,170,170,150,40,-170,30,90,-80,-130,-150,-90,-60,-70,-150,-100,-170,-170,-160,-170]

# ---------- panel (d) 12 May ----------
d01=(105,[-40,-37,-33,-28,-23,-20,-15,-10,-5,0,5,10,15,18,22,25,28,30,32,35,38,41,43,44],[4.0,4.02,4.2,4.4,4.7,5.0,5.2,5.3,5.4,5.45,5.5,5.55,5.6,5.5,5.4,5.5,5.55,5.55,5.65,5.65,5.55,5.3,5.05,4.95])
d02=(50,[0,5,10,15,20,23,28,33,37,40,45,48],[5.0,5.2,5.4,5.3,5.15,5.15,5.2,5.2,5.1,4.95,4.75,4.6])
d03=(70,[-10,-5,0,5,10,15],[4.85,5.0,5.15,5.3,5.42,5.25])
d04=(-90,[-22,-20,-15,-10,-5,-2,0,3,8,13],[5.25,5.3,5.35,5.3,5.5,5.6,5.55,5.45,5.35,5.3])
d05=(-85,[-28,-25,-22,-20,-15,-10,-5,0,5,10,14,17,19],[4.6,4.9,5.05,4.8,4.95,5.1,5.2,5.05,5.0,5.0,4.85,4.9,4.65])
d06=(-120,[-35,-30,-25,-20,-15,-10,0,5,10,15,20,25,30,40,50],[4.5,4.8,4.72,4.95,5.05,5.05,5.15,5.2,5.25,5.28,5.25,5.1,5.05,4.95,4.75])
d07=(-135,[-30,-25,-20,-15,-10,-5,0,5,10,13,16,18,20,23,25,30,35,40,45,50,55,60,65],[4.55,4.6,4.75,4.8,4.95,5.05,5.1,5.05,5.0,4.9,4.95,4.9,4.75,4.5,4.4,4.35,4.35,4.28,4.3,4.35,4.4,4.45,4.45])
d08=(-165,[25,30,35,40,45,50,52],[5.15,5.05,5.0,4.95,4.88,4.75,4.65])
d09=(-175,[-5,0,5,10,15,20],[4.9,5.1,5.25,5.25,5.25,5.25])
d10=(15,[-15,-5,0,5,10,15,20,25,30,35,40],[4.55,4.7,4.95,4.8,4.6,4.5,4.45,4.55,4.65,4.6,4.5])
d11=(-45,[-5,0,5,10,15,20,25,30,35,40,45,50,55,60],[4.55,4.75,4.7,4.68,4.65,4.6,4.5,4.45,4.42,4.4,4.38,4.33,4.3,4.28])
d12=(-80,[10,15,20,25,30,35,40,45,50],[4.7,4.65,4.6,4.6,4.62,4.6,4.6,4.45,4.4])
d13=(-60,[-65,-60,-55,-50,-45,-40],[3.8,3.9,3.95,4.0,4.15,4.3])
d14=(-30,[-60,-55,-50,-45],[3.95,4.05,4.1,4.2])
d15=(-20,[-82,-79,-76,-73,-70,-67,-64],[4.9,4.95,4.75,4.95,4.85,4.65,4.4])
d16=(-85,[-81,-79,-77,-75,-73],[4.6,4.65,4.55,4.6,4.5])
d17=(-150,[-81,-80,-79,-78,-77,-76,-75,-74,-73,-72,-71,-69,-67,-65],[4.15,3.4,4.1,3.45,4.05,3.5,4.1,3.65,4.15,3.7,4.1,3.75,4.15,3.85])
d18=(75,[-82,-81,-80,-79,-78,-77,-76,-75,-74],[4.45,4.15,4.3,4.1,4.45,4.2,4.4,4.2,4.3])
d19=(100,[-81,-80,-79,-78,-77,-76,-75,-74,-73,-72,-71,-70,-69,-68,-67,-66,-65,-64,-63,-62,-61,-60,-59,-58,-57,-56,-55,-54,-53,-52,-51,-50,-49,-48,-47,-46,-45,-44,-43,-42,-41,-40],[5.25,5.2,5.3,5.2,5.28,5.1,5.0,4.6,4.5,4.9,4.3,4.95,4.35,4.7,4.25,4.75,4.35,4.8,4.1,4.95,4.2,4.6,4.0,4.75,4.1,4.75,4.25,4.8,4.1,4.95,4.2,4.8,4.35,4.75,4.4,4.65,4.3,4.6,4.25,4.5,4.2,4.4])
d20=(140,[-81,-80,-79,-78,-77,-76,-75,-74,-73,-72,-71,-70,-69,-68,-67,-66,-65,-64,-63,-62,-61,-60,-59,-58,-57,-56,-55,-54,-53,-52,-51,-50,-48,-46,-44],[4.5,4.1,4.4,4.0,4.45,3.9,4.3,3.9,4.3,3.9,4.3,4.0,4.35,3.9,4.3,3.95,4.4,3.85,4.25,3.95,4.3,3.8,4.2,3.85,4.3,3.85,4.2,3.9,4.35,3.95,4.5,4.2,4.7,4.25,4.5])
d21=(165,[-80,-79,-78,-77,-76,-75,-74,-73,-72,-71,-70,-69,-68,-67,-66,-65,-64,-63],[3.95,3.2,4.0,3.4,3.9,3.1,4.1,3.5,4.0,3.6,4.05,3.6,4.0,3.6,4.0,3.55,4.1,3.6])
d22=(-135,[45,50,55,58,60,62,65,68,70,72,74,76,78,80],[4.6,4.5,4.75,4.7,4.8,4.65,4.75,4.6,4.8,4.45,4.85,4.3,4.75,4.7])
d23=(60,[70,71,72,73,74,75,76,77,78,80,82,84,86,87],[4.85,4.2,4.7,3.9,4.0,4.5,4.05,4.6,4.05,4.5,3.95,4.5,3.95,4.4])
d24=(-55,[78,79,80,81,82,83,84,85,86,87],[4.4,4.1,5.0,4.6,4.95,4.6,4.95,4.15,4.9,4.3])
d25=(-110,[84,85,86,87,87],[4.95,4.7,4.9,4.75,4.9])
d26=(170,[40,45,50,55,58,60,62,65,68,70,71,72,73,74,75],[4.75,4.72,4.7,4.75,4.75,4.65,4.7,4.6,4.55,4.5,4.3,4.65,4.85,4.4,4.8])
d27=(170,[-40,-30,-20,-10,-5,0,3,6,10,15,20,25,30,35,40],[4.4,4.5,4.6,4.7,4.75,4.95,5.15,5.2,5.15,5.0,4.9,4.88,4.9,4.85,4.75])
d28=(130,[-5,0,5,10,15,20,25,30,35,40,45,50],[4.65,4.62,4.65,4.7,4.75,4.75,4.82,4.85,4.8,4.7,4.6,4.5])
d29=(145,[-40,-30,-20,-10,-5,0,5,10,15,20,25,30,35,40,45,50,55,60],[4.3,4.4,4.5,4.55,4.55,4.45,4.47,4.55,4.6,4.7,4.85,4.95,4.95,4.85,4.7,4.55,4.5,4.5])
d30=(145,[62,64,66,67,68,69,70,71,72,73,74,75,76,77,78,79,80,81,82,83,84,85,86,87],[4.5,4.4,4.45,4.1,4.5,4.05,4.5,3.95,4.4,3.8,4.55,3.85,4.4,4.15,4.45,4.25,4.5,4.3,4.55,4.35,4.6,4.4,4.7,4.85])
d31=(-15,[-82,-81,-80,-79,-78,-77,-76,-75,-74,-73,-72,-71,-70,-69,-68,-67,-66],[4.65,5.0,4.7,4.95,4.65,4.95,4.6,5.0,4.6,4.95,4.55,5.0,4.55,4.9,4.5,4.85,4.45])
d32=(-75,[-82,-81,-80,-79,-78,-77,-76,-75,-74],[4.5,4.7,4.45,4.7,4.45,4.7,4.4,4.65,4.4])
d33=(145,[67,68,69,70,71,72,73,74,75,76,77],[4.45,4.0,4.5,3.95,4.5,3.85,4.6,3.8,4.55,4.1,4.5])
d34=(120,[68,69,70,71,72,73,74,75,76],[4.4,4.05,4.45,3.95,4.4,3.85,4.4,3.95,4.4])
d35=(55,[80,81,82,83,84,85,86,87],[4.5,4.0,4.55,4.05,4.5,3.95,4.55,4.0])
d36=(-50,[76,77,78,79,80,81,82,83,84,85,86,87],[4.1,4.5,4.05,4.6,4.1,4.6,4.0,4.55,3.9,4.4,4.1,4.5])
d37=(-95,[60,65,70,75,80],[4.5,4.55,4.6,4.55,4.65])
d38=(15,[-30,-20,-10,0,10,20],[4.5,4.6,4.65,4.6,4.55,4.48])
d_tracks=[d13,d14,d31,d15,d32,d16,d38,d12,d11,d10,d03,d02,d01,d04,d05,d17,d37,d22,d23,d35,d36,d24,d25,d09,d06,d07,d08,d18,d19,d20,d21,d26,d27,d28,d29,d33,d34,d30]
d_dot_lat=[-79.5,-75.5,-79.5,-79.7,-78.5,-75.5,-75.5,-78.5,-75,-75.5,-78.3,-78.3,-75.5,-78.5,-75.5,-77,-79.5,-75,-78,-75,-72,-72,-63,-66,-63,-63,-54.5,-55,-54,-54,71,71.5,73,73.5,72,70,76,77,75,74,73,75,77,73.5,73.5,73.3,74.5,77,74]
d_dot_ne=[2.93,2.93,2.11,1.9,2.03,2.21,2.01,1.73,1.68,1.47,1.33,1.12,0.71,0.34,0.44,1.63,3.1,3.05,3.15,3.2,3.25,3.43,3.5,2.87,3.32,3.13,3.74,3.24,2.92,3.59,3.2,3.05,3.0,3.65,3.4,3.65,3.5,3.3,3.2,3.3,3.35,3.75,3.6,2.53,2.4,2.27,2.11,1.99,1.77]
d_dot_lon=[170,170,170,170,170,170,170,170,170,170,170,-130,170,170,170,-130,170,170,170,170,170,170,170,120,150,150,130,150,150,130,55,60,55,120,70,120,110,110,130,125,90,110,100,150,175,165,175,95,55]

PANELS = [
    dict(tracks=a_tracks,dlat=a_dot_lat,dne=a_dot_ne,dlon=a_dot_lon,title="Daytime Electron Density on 09 May 2024",tag="(a)",yr=[1,6],yt=[1,1.5,2,2.5,3,3.5,4,4.5,5,5.5,6],box=(104,1061,41,560),cb=(1095,40,559),tx=582,ty=22,gx=149),
    dict(tracks=b_tracks,dlat=b_dot_lat,dne=b_dot_ne,dlon=b_dot_lon,title="Daytime Electron Density on 10 May 2024",tag="(b)",yr=[1.5,6],yt=[1.5,2,2.5,3,3.5,4,4.5,5,5.5,6],box=(104,1061,684,1204),cb=(1095,684,1203),tx=582,ty=668,gx=141),
    dict(tracks=c_tracks,dlat=c_dot_lat,dne=c_dot_ne,dlon=c_dot_lon,title="Daytime Electron Density on 11 May 2024",tag="(c)",yr=[1.5,6],yt=[1.5,2,2.5,3,3.5,4,4.5,5,5.5,6],box=(1376,2332,41,560),cb=(2366,40,559),tx=1855,ty=22,gx=1404),
    dict(tracks=d_tracks,dlat=d_dot_lat,dne=d_dot_ne,dlon=d_dot_lon,title="Daytime Electron Density on 12 May 2024",tag="(d)",yr=[0,6],yt=[0,1,2,3,4,5,6],box=(1354,2312,684,1204),cb=(2345,684,1203),tx=1834,ty=668,gx=1387),
]

FONT = "Liberation Serif"
TXT = "#262626"
fig = go.Figure()
layout = dict(width=W, height=H, margin=dict(l=0,r=0,t=0,b=0,autoexpand=False), paper_bgcolor="white", plot_bgcolor="white", showlegend=False, annotations=[])

def col(lon):
    return sample_colorscale(JET, (lon+180)/360)[0]
def fx(p): return p/W
def fy(p): return 1-p/H

for i,p in enumerate(PANELS, start=1):
    ax, ay = ("x","y") if i==1 else (f"x{i}",f"y{i}")
    ca = "coloraxis" if i==1 else f"coloraxis{i}"
    for lon,lat,ne in p["tracks"]:
        fig.add_trace(go.Scatter(x=lat,y=ne,mode="lines+markers",xaxis=ax,yaxis=ay,hoverinfo="skip",
            line=dict(color=col(lon),width=9),
            marker=dict(size=9,color=[lon]*len(lat),coloraxis=ca)))
    n=min(len(p["dlat"]),len(p["dne"]),len(p["dlon"]))
    fig.add_trace(go.Scatter(x=p["dlat"][:n],y=p["dne"][:n],mode="markers",xaxis=ax,yaxis=ay,hoverinfo="skip",
        marker=dict(size=7,color=p["dlon"][:n],coloraxis=ca)))
    x0,x1,y0,y1 = p["box"]
    base = dict(showgrid=True,gridcolor="#e4e4e4",gridwidth=1,zeroline=False,showline=True,linecolor="#7a7a7a",linewidth=2,mirror="ticks",ticks="inside",ticklen=8,tickcolor="#555555",tickfont=dict(family=FONT,size=25,color=TXT))
    xn = "xaxis" if i==1 else f"xaxis{i}"
    yn = "yaxis" if i==1 else f"yaxis{i}"
    layout[xn] = dict(base,domain=[fx(x0),fx(x1)],range=[-90,90],tickvals=TICK_LAT,anchor=ay,ticklabelstandoff=-3)
    layout[yn] = dict(base,domain=[fy(y1),fy(y0)],range=p["yr"],tickvals=p["yt"],anchor=ax)
    cbx,cby0,cby1 = p["cb"]
    layout[ca] = dict(colorscale=JET,cmin=-180,cmax=180,colorbar=dict(x=fx(cbx),xanchor="left",y=fy(cby1),yanchor="bottom",len=(cby1-cby0)/H,lenmode="fraction",thickness=38,thicknessmode="pixels",xpad=0,ypad=0,tickvals=TICK_LON,ticks="",outlinewidth=1,outlinecolor="#555555",tickfont=dict(family=FONT,size=25,color=TXT)))
    anns = layout["annotations"]
    def A(text,x,y,size,bold=False,angle=0,xa="center",ya="middle"):
        anns.append(dict(text=f"<b>{text}</b>" if bold else text,x=fx(x),y=fy(y),xref="paper",yref="paper",showarrow=False,font=dict(family=FONT,size=size,color=TXT),textangle=angle,xanchor=xa,yanchor=ya))
    A(p["title"],p["tx"],p["ty"],31,bold=True)
    A(p["tag"],p["gx"],p["ty"]+2,29,bold=True)
    A("Latitude (deg)",(x0+x1)/2,y1+47,29)
    A("log<sub>10</sub>[Ne (cm<sup>-3</sup>)]",x0-78,(y0+y1)/2,25,angle=-90)
    A("Longitude (deg)",cbx+112,(cby0+cby1)/2+5,21,angle=-90)

fig.update_layout(**layout)
fig.write_html("out.html",config=dict(displayModeBar=False),post_script="document.body.style.margin='0';")
